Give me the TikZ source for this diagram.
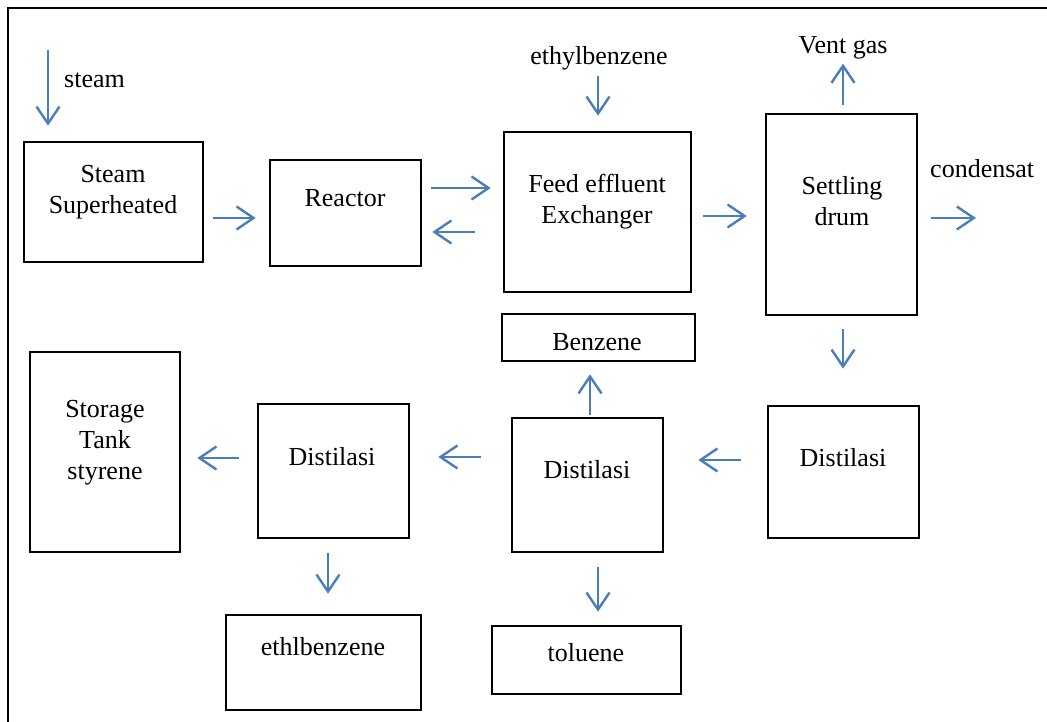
\documentclass[tikz,border=0pt]{standalone}
\usepackage{fontspec}
\setmainfont{Liberation Serif}
\usetikzlibrary{arrows.meta}
\definecolor{arrblue}{HTML}{4A7EBB}
\tikzset{
  box/.style={draw=black, line width=2.6pt, inner sep=0pt},
  lbl/.style={font=\fontsize{26}{31}\selectfont, align=center, inner sep=0pt, anchor=north},
  arr/.style={draw=arrblue, line width=2.4pt, -{Straight Barb[length=17pt,width=23pt]}},
}
\begin{document}
\begin{tikzpicture}[x=1pt,y=-1pt]
\useasboundingbox (0,0) rectangle (1047,722);
% outer frame (only left and top edges visible)
\draw[line width=2.6pt] (8,722) -- (8,8) -- (1047,8);

% boxes
\node[box, minimum width=179pt, minimum height=120pt] (ssh) at (113.5,202) {};
\node[box, minimum width=151pt, minimum height=106pt] (reactor) at (345.5,213) {};
\node[box, minimum width=187pt, minimum height=160pt] (feed) at (597.5,212) {};
\node[box, minimum width=151pt, minimum height=201pt] (settle) at (841.5,214.5) {};
\node[box, minimum width=193pt, minimum height=47pt] (benzene) at (598.5,337.5) {};
\node[box, minimum width=151pt, minimum height=134pt] (dmid) at (587.5,485) {};
\node[box, minimum width=151pt, minimum height=132pt] (dright) at (843.5,472) {};
\node[box, minimum width=189pt, minimum height=68pt] (toluene) at (586.5,660) {};
\node[box, minimum width=150pt, minimum height=200pt] (storage) at (105,452) {};
\node[box, minimum width=151pt, minimum height=134pt] (dleft) at (333.5,471) {};
\node[box, minimum width=195pt, minimum height=95pt] (ethl) at (323.5,662.5) {};

% labels
\node[lbl, anchor=north west] (tsteam) at (64,65.3) {\strut steam};
\node[lbl] (tssh) at (113,160.3) {\strut Steam\\\strut Superheated};
\node[lbl] (treactor) at (345,184.3) {\strut Reactor};
\node[lbl] (teb) at (599,42.3) {\strut ethylbenzene};
\node[lbl] (tfeed) at (597,170.3) {\strut Feed effluent\\\strut Exchanger};
\node[lbl] (tvent) at (843,31.3) {\strut Vent gas};
\node[lbl] (tsettle) at (842,172.3) {\strut Settling\\\strut drum};
\node[lbl, anchor=north west] (tcond) at (930,155.3) {\strut condensat};
\node[lbl] (tbenz) at (597,328.3) {\strut Benzene};
\node[lbl] (tdmid) at (587,456.3) {\strut Distilasi};
\node[lbl] (tdright) at (843,444.3) {\strut Distilasi};
\node[lbl] (ttol) at (586,639.3) {\strut toluene};
\node[lbl] (tstor) at (105,395.3) {\strut Storage\\\strut Tank\\\strut styrene};
\node[lbl] (tdleft) at (332,443.3) {\strut Distilasi};
\node[lbl] (tethl) at (323,633.3) {\strut ethlbenzene};

% free arrow ends
\coordinate (steamin) at (48,50);
\coordinate (condout) at (976,218);

% connectors
\draw[arr] (steamin) -- ([shift={(-65.5,-15)}]ssh.north);
\draw[arr] ([shift={(9,16)}]ssh.east) -- ([shift={(-13,5)}]reactor.west);
\draw[arr] ([shift={(9,-25)}]reactor.east) -- ([shift={(-12,-24)}]feed.west);
\draw[arr] ([shift={(-28,20)}]feed.west) -- ([shift={(10,19)}]reactor.east);
\draw[arr] ([shift={(-1,2)}]teb.south) -- ([shift={(0.5,-15)}]feed.north);
\draw[arr] ([shift={(11,4)}]feed.east) -- ([shift={(-18,1.5)}]settle.west);
\draw[arr] ([shift={(1.5,-8)}]settle.north) -- ([shift={(0,1)}]tvent.south);
\draw[arr] ([shift={(13,3.5)}]settle.east) -- (condout);
\draw[arr] ([shift={(1.5,13)}]settle.south) -- ([shift={(-0.5,-36)}]dright.north);
\draw[arr] ([shift={(-26,-12)}]dright.west) -- ([shift={(34,-25)}]dmid.east);
\draw[arr] ([shift={(2.5,-2)}]dmid.north) -- ([shift={(-8.5,12)}]benzene.south);
\draw[arr] ([shift={(10.5,14)}]dmid.south) -- ([shift={(11.5,-13)}]toluene.north);
\draw[arr] ([shift={(-30,-28)}]dmid.west) -- ([shift={(28,-14)}]dleft.east);
\draw[arr] ([shift={(-18,-13)}]dleft.west) -- ([shift={(16,6)}]storage.east);
\draw[arr] ([shift={(-5.5,14)}]dleft.south) -- ([shift={(4.5,-20)}]ethl.north);
\end{tikzpicture}
\end{document}
